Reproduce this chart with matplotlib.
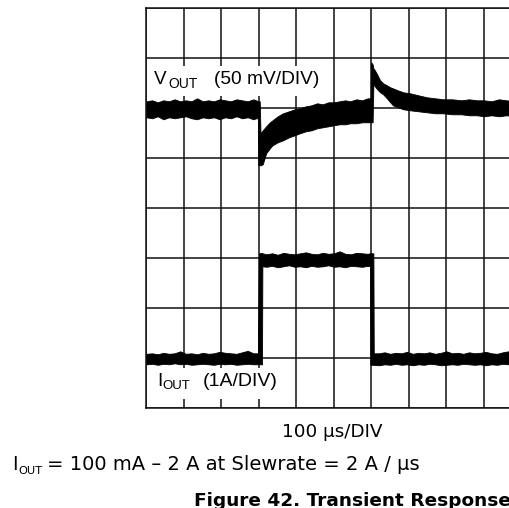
import matplotlib
matplotlib.use("Agg")
import matplotlib.pyplot as plt
from matplotlib.patches import Rectangle
import numpy as np

# ---------------- scope capture (time in µs) ----------------
# VOUT channel: noise envelope in mV around the regulated level
t_v = [0, 15, 30, 45, 60, 75, 90, 105, 120, 135, 150, 165, 180, 195, 210, 225,
       240, 255, 270, 285, 292, 297, 298, 302, 304, 310, 319, 329, 336, 350,
       364, 380, 395, 409, 425, 440, 455, 470, 485, 499, 515, 530, 543, 560,
       575, 590, 598, 599, 603, 605, 609, 615, 623, 631, 641, 650, 657, 670,
       685, 703, 725, 748, 770, 791, 815, 840, 860, 881, 900, 920, 940, 960,
       980, 1000]
v_hi = [7, 8, 6, 8, 7, 9, 7, 8, 7, 10, 7, 8, 7, 9, 8, 7,
        9, 8, 7, 9, 8, 7, 7, 7, -25, -22, -18, -14, -12, -8,
        -5, -3, -1, 0, 2, 3, 5, 4, 6, 6, 7, 8, 7, 9,
        8, 10, 10, 46, 44, 40, 38, 34, 28, 25, 23, 21, 20, 18,
        16, 15, 13, 11, 10, 9, 9, 8, 9, 8, 8, 7, 9, 8,
        7, 8]
v_lo = [-9, -10, -8, -11, -9, -10, -9, -8, -10, -11, -9, -10, -9, -11, -9, -10,
        -8, -10, -9, -11, -10, -10, -57, -57, -57, -56, -45, -40, -37, -34,
        -32, -29, -27, -25, -23, -22, -20, -19, -18, -17, -16, -16, -15, -15,
        -14, -14, -14, -14, -14, 24, 22, 19, 16, 14, 10, 6, 3, 1,
        -1, -2, -3, -4, -5, -5, -6, -6, -7, -7, -8, -7, -8, -7,
        -8, -8]

# IOUT channel: noise envelope in A (100 mA -> 2 A load step)
t_i = [0, 15, 30, 45, 60, 75, 90, 105, 120, 135, 150, 165, 180, 195, 210, 225,
       240, 255, 270, 285, 297, 300, 308, 309, 320, 335, 350, 365, 380, 395,
       410, 425, 440, 455, 470, 485, 500, 515, 530, 545, 560, 575, 590, 596,
       597, 605, 606, 620, 635, 650, 665, 680, 695, 710, 725, 740, 755, 770,
       785, 800, 815, 830, 845, 860, 875, 890, 905, 920, 935, 950, 965, 980,
       1000]
i_hi = [0.19, 0.20, 0.18, 0.21, 0.19, 0.20, 0.24, 0.19, 0.20, 0.18, 0.21, 0.19,
        0.20, 0.23, 0.21, 0.20, 0.19, 0.22, 0.25, 0.20,
        0.20, 2.20, 2.21, 2.20,
        2.18, 2.20, 2.17, 2.21, 2.19, 2.18, 2.20, 2.22, 2.19, 2.18, 2.21, 2.19,
        2.20, 2.24, 2.19, 2.18, 2.21, 2.20, 2.19,
        2.20, 2.20, 2.20, 0.20,
        0.20, 0.22, 0.19, 0.21, 0.20, 0.23, 0.19, 0.21, 0.20, 0.22, 0.19, 0.21,
        0.24, 0.20, 0.21, 0.19, 0.22, 0.20, 0.21, 0.23, 0.20, 0.19, 0.22, 0.24,
        0.21, 0.20]
i_lo = [-0.02, -0.01, -0.03, -0.01, -0.02, 0.00, -0.02, -0.01, -0.03, -0.02,
        -0.01, -0.02, -0.03, -0.01, -0.02, -0.01, -0.03, -0.02, -0.01, -0.02,
        -0.02, -0.02, -0.02, 1.94,
        1.93, 1.95, 1.92, 1.94, 1.96, 1.93, 1.94, 1.92, 1.95, 1.93, 1.94, 1.96,
        1.93, 1.94, 1.92, 1.95, 1.94, 1.93, 1.95,
        1.94, -0.03, -0.03, -0.03,
        -0.04, -0.02, -0.03, -0.01, -0.03, -0.02, -0.04, -0.02, -0.03, -0.01,
        -0.02, -0.04, -0.03, -0.02, -0.03, -0.01, -0.02, -0.03, -0.02, -0.04,
        -0.02, -0.03, -0.01, -0.02, -0.03, -0.02]

assert len(t_v) == len(v_hi) == len(v_lo)
assert len(t_i) == len(i_hi) == len(i_lo)

# screen settings: scale per division and trace position (divisions from bottom)
V_PER_DIV, V_POS = 50.0, 6.0
I_PER_DIV, I_POS = 1.0, 0.9
T_PER_DIV, N_XDIV, N_YDIV = 100.0, 10, 8

W, H = 510, 508
fig = plt.figure(figsize=(W / 100, H / 100), dpi=100)
x0, x1, ytop, ybot = 146.5, 521.5, 8.3, 408.3
ax = fig.add_axes([x0 / W, 1 - ybot / H, (x1 - x0) / W, (ybot - ytop) / H])
ax.set_xlim(0, N_XDIV * T_PER_DIV)
ax.set_ylim(0, N_YDIV)
ax.set_xticks(np.arange(N_XDIV + 1) * T_PER_DIV)
ax.set_yticks(np.arange(N_YDIV + 1))
ax.tick_params(length=0, labelbottom=False, labelleft=False)
ax.grid(True, color="#111111", lw=1.1)
ax.set_axisbelow(True)
for s in ax.spines.values():
    s.set_color("#111111")
    s.set_linewidth(1.1)

tv = np.array(t_v, float)
ax.fill_between(tv, V_POS + np.array(v_lo) / V_PER_DIV,
                V_POS + np.array(v_hi) / V_PER_DIV,
                color="black", lw=0.6, edgecolor="black", zorder=3)
ti = np.array(t_i, float)
ax.fill_between(ti, I_POS + np.array(i_lo) / I_PER_DIV,
                I_POS + np.array(i_hi) / I_PER_DIV,
                color="black", lw=0.6, edgecolor="black", zorder=3)


# ---------------- text, placed in pixel coordinates (top-left origin) ----------------
def fx(px):
    return px / W


def fy(py):
    return 1 - py / H


ARIAL = ["Liberation Sans", "DejaVu Sans"]
WIDE = ["DejaVu Sans"]


def put(px, base, s, size, family, weight="normal"):
    fig.text(fx(px), fy(base), s, fontsize=size, family=family,
             fontweight=weight, ha="left", va="baseline")


def white_box(left, top, right, bottom):
    fig.patches.append(Rectangle((fx(left), fy(bottom)), fx(right - left),
                                 (bottom - top) / H, transform=fig.transFigure,
                                 facecolor="white", edgecolor="none", zorder=1))


# channel labels with subscripts, on white patches over the graticule
white_box(148, 66, 328, 96)
put(154, 84.5, "V", 13.6, ARIAL)
put(168.5, 88, "OUT", 10, ARIAL)
put(214, 84.5, "(50 mV/DIV)", 13.8, ARIAL)

white_box(148, 368, 292, 399)
put(157, 385.5, "I", 13.6, ARIAL)
put(162, 389, "OUT", 9.5, ARIAL)
put(203, 385.5, "(1A/DIV)", 14, ARIAL)

put(282, 437, "100 µs/DIV", 13.2, WIDE)
put(12, 470, "I", 13.6, WIDE)
put(18, 474, "OUT", 8.2, WIDE)
put(47, 470, "= 100 mA – 2 A at Slewrate = 2 A / µs", 14, WIDE)
put(194, 506.5, "Figure 42. Transient Response", 13.3, WIDE, "bold")

fig.savefig("out.png", dpi=100)
